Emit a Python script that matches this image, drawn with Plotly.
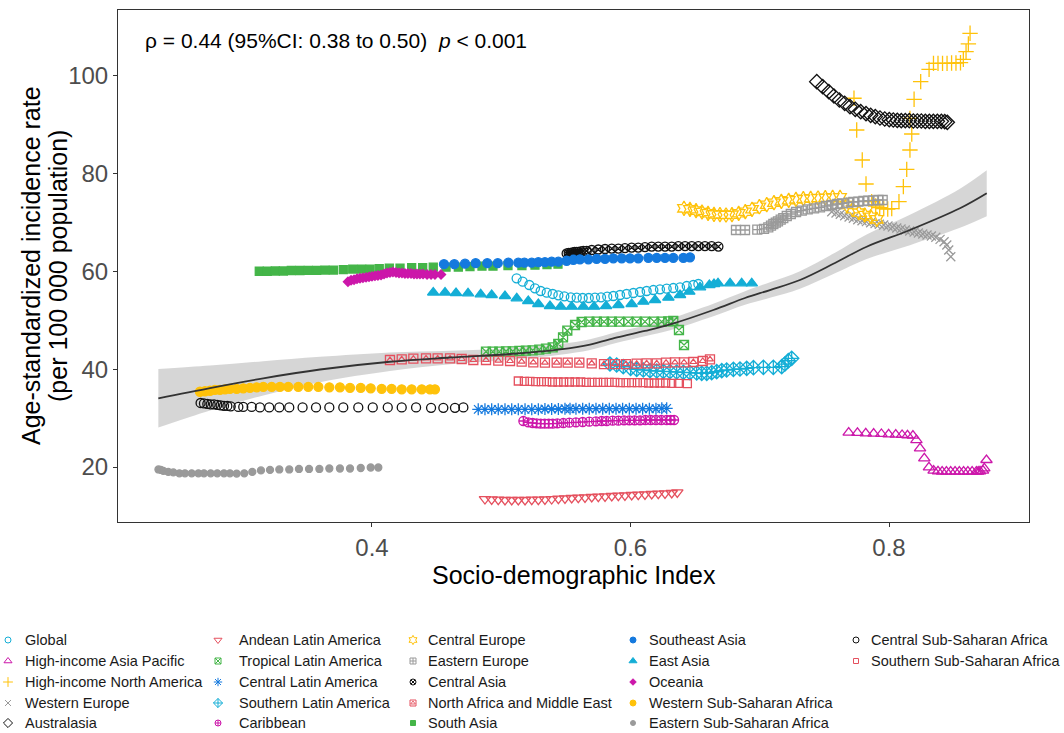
import plotly.graph_objects as go

W, H = 1064, 733

# ---------------------------------------------------------------
# Socio-demographic Index (x) and age-standardized incidence rate
# per 100 000 (y) for each GBD region, 1990-2019
# ---------------------------------------------------------------
global_sdi = [0.5119, 0.5166, 0.5217, 0.5261, 0.5305, 0.5352, 0.5398, 0.5442, 0.5488, 0.5538,
              0.5584, 0.5630, 0.5677, 0.5725, 0.5772, 0.5820, 0.5867, 0.5919, 0.5970, 0.6022,
              0.6074, 0.6125, 0.6177, 0.6228, 0.6280, 0.6331, 0.6383, 0.6435, 0.6486, 0.6525]
global_asir = [58.60, 57.92, 57.24, 56.56, 56.01, 55.67, 55.40, 55.12, 54.92, 54.71,
               54.65, 54.58, 54.58, 54.65, 54.71, 54.85, 54.99, 55.19, 55.40, 55.60,
               55.81, 56.01, 56.21, 56.35, 56.49, 56.62, 56.76, 57.03, 57.24, 57.44]

hiap_sdi = [0.7688, 0.7756, 0.7820, 0.7881, 0.7941, 0.7997, 0.8052, 0.8101, 0.8143, 0.8185,
            0.8212, 0.8240, 0.8273, 0.8309, 0.8345, 0.8379, 0.8411, 0.8444, 0.8477, 0.8511,
            0.8544, 0.8577, 0.8610, 0.8643, 0.8676, 0.8690, 0.8704, 0.8727, 0.8737, 0.8754]
hiap_asir = [27.03, 26.97, 26.90, 26.83, 26.76, 26.69, 26.62, 26.56, 26.49, 26.42,
             25.52, 23.81, 21.77, 19.93, 19.25, 19.12, 19.05, 19.05, 19.05, 19.05,
             19.05, 19.05, 19.05, 19.05, 19.05, 19.08, 19.12, 19.25, 19.73, 21.43]

hina_sdi = [0.7729, 0.7750, 0.7793, 0.7822, 0.7866, 0.7897, 0.7928, 0.7959, 0.7990, 0.8021,
            0.8077, 0.8111, 0.8137, 0.8162, 0.8176, 0.8162, 0.8194, 0.8245, 0.8310, 0.8344,
            0.8379, 0.8414, 0.8449, 0.8484, 0.8518, 0.8553, 0.8575, 0.8596, 0.8614, 0.8627]
hina_asir = [95.44, 88.95, 82.81, 77.90, 74.29, 73.40, 73.06, 72.86, 72.79, 72.86,
             74.29, 77.36, 80.90, 84.86, 88.13, 91.33, 95.23, 98.84, 101.36, 102.59,
             102.59, 102.59, 102.59, 102.65, 102.65, 102.72, 103.41, 104.98, 106.55, 108.73]

weur_sdi = [0.7557, 0.7590, 0.7623, 0.7657, 0.7691, 0.7724, 0.7758, 0.7791, 0.7825, 0.7858,
            0.7892, 0.7925, 0.7959, 0.7992, 0.8026, 0.8060, 0.8093, 0.8126, 0.8160, 0.8194,
            0.8227, 0.8261, 0.8294, 0.8328, 0.8362, 0.8395, 0.8426, 0.8447, 0.8462, 0.8478]
weur_asir = [72.24, 71.97, 71.70, 71.42, 71.15, 70.88, 70.60, 70.40, 70.20, 69.99,
             69.79, 69.65, 69.51, 69.31, 69.10, 68.90, 68.70, 68.49, 68.29, 68.08,
             67.88, 67.67, 67.47, 67.26, 66.99, 66.58, 66.10, 65.42, 64.40, 63.03]

austral_sdi = [0.7441, 0.7487, 0.7534, 0.7574, 0.7616, 0.7657, 0.7698, 0.7739, 0.7781, 0.7822,
               0.7858, 0.7894, 0.7930, 0.7967, 0.8002, 0.8033, 0.8064, 0.8095, 0.8126, 0.8157,
               0.8188, 0.8219, 0.8250, 0.8281, 0.8312, 0.8343, 0.8374, 0.8405, 0.8431, 0.8451]
austral_asir = [98.84, 97.82, 96.79, 95.91, 95.09, 94.41, 93.73, 93.18, 92.70, 92.29,
                91.95, 91.68, 91.41, 91.20, 91.07, 91.00, 90.93, 90.86, 90.86, 90.86,
                90.79, 90.79, 90.79, 90.72, 90.72, 90.72, 90.72, 90.72, 90.66, 90.52]

andean_sdi = [0.4874, 0.4926, 0.4977, 0.5029, 0.5081, 0.5132, 0.5184, 0.5236, 0.5287, 0.5338,
              0.5390, 0.5442, 0.5493, 0.5545, 0.5596, 0.5648, 0.5700, 0.5751, 0.5803, 0.5855,
              0.5906, 0.5957, 0.6009, 0.6060, 0.6112, 0.6164, 0.6215, 0.6267, 0.6319, 0.6362]
andean_asir = [13.45, 13.39, 13.32, 13.25, 13.25, 13.25, 13.25, 13.32, 13.32, 13.39,
               13.45, 13.52, 13.59, 13.66, 13.73, 13.80, 13.86, 13.93, 14.00, 14.07,
               14.14, 14.21, 14.27, 14.34, 14.41, 14.48, 14.55, 14.62, 14.68, 14.82]

trop_sdi = [0.4882, 0.4934, 0.4985, 0.5037, 0.5089, 0.5140, 0.5191, 0.5243, 0.5294, 0.5346,
            0.5398, 0.5441, 0.5478, 0.5511, 0.5571, 0.5622, 0.5681, 0.5739, 0.5795, 0.5855,
            0.5913, 0.5983, 0.6048, 0.6112, 0.6182, 0.6241, 0.6292, 0.6331, 0.6375, 0.6414]
trop_asir = [43.60, 43.60, 43.60, 43.67, 43.67, 43.74, 43.80, 43.87, 44.01, 44.21,
             44.49, 45.17, 46.53, 47.89, 49.05, 49.67, 49.74, 49.74, 49.74, 49.74,
             49.74, 49.74, 49.74, 49.74, 49.74, 49.74, 49.80, 49.87, 48.03, 44.96]

clat_sdi = [0.4822, 0.4874, 0.4926, 0.4977, 0.5029, 0.5081, 0.5132, 0.5184, 0.5236, 0.5287,
            0.5338, 0.5390, 0.5442, 0.5493, 0.5532, 0.5578, 0.5630, 0.5681, 0.5733, 0.5785,
            0.5836, 0.5888, 0.5939, 0.5991, 0.6043, 0.6094, 0.6146, 0.6197, 0.6242, 0.6280]
clat_asir = [31.80, 31.80, 31.80, 31.80, 31.80, 31.80, 31.80, 31.80, 31.80, 31.80,
             31.87, 31.87, 31.87, 31.93, 31.93, 31.93, 31.93, 31.93, 31.93, 31.93,
             31.93, 31.93, 31.93, 31.93, 31.93, 31.93, 31.93, 31.93, 32.00, 32.00]

slat_sdi = [0.5841, 0.5893, 0.5944, 0.6001, 0.6048, 0.6099, 0.6151, 0.6203, 0.6254, 0.6306,
            0.6357, 0.6409, 0.6460, 0.6512, 0.6551, 0.6590, 0.6628, 0.6667, 0.6706, 0.6744,
            0.6796, 0.6847, 0.6899, 0.6951, 0.7028, 0.7105, 0.7170, 0.7195, 0.7221, 0.7247]
slat_asir = [41.07, 40.87, 40.53, 40.19, 39.98, 39.85, 39.71, 39.64, 39.57, 39.51,
             39.44, 39.37, 39.30, 39.23, 39.17, 39.17, 39.30, 39.51, 39.71, 39.85,
             39.98, 40.05, 40.19, 40.32, 40.39, 40.39, 40.53, 41.07, 41.76, 42.23]

carib_sdi = [0.5171, 0.5209, 0.5243, 0.5274, 0.5305, 0.5336, 0.5367, 0.5398, 0.5434, 0.5480,
             0.5527, 0.5578, 0.5630, 0.5681, 0.5733, 0.5777, 0.5816, 0.5862, 0.5906, 0.5950,
             0.5991, 0.6032, 0.6074, 0.6115, 0.6156, 0.6197, 0.6238, 0.6280, 0.6311, 0.6337]
carib_asir = [29.41, 29.14, 29.00, 28.93, 28.87, 28.87, 28.87, 28.87, 28.93, 29.00,
              29.07, 29.14, 29.21, 29.28, 29.34, 29.41, 29.41, 29.48, 29.48, 29.55,
              29.55, 29.55, 29.55, 29.62, 29.62, 29.62, 29.62, 29.62, 29.62, 29.62]

ceur_sdi = [0.6414, 0.6460, 0.6507, 0.6553, 0.6600, 0.6646, 0.6692, 0.6739, 0.6785, 0.6837,
            0.6888, 0.6940, 0.6997, 0.7054, 0.7110, 0.7167, 0.7224, 0.7280, 0.7337, 0.7394,
            0.7451, 0.7507, 0.7564, 0.7621, 0.7673, 0.7719, 0.7766, 0.7812, 0.7859, 0.7905]
ceur_asir = [72.92, 72.72, 72.45, 72.17, 71.90, 71.69, 71.63, 71.56, 71.63, 71.90,
             72.24, 72.72, 73.26, 73.67, 74.08, 74.35, 74.56, 74.76, 74.90, 74.97,
             75.04, 75.10, 75.17, 75.17, 73.60, 72.72, 72.04, 71.56, 71.22, 70.67]

eeur_sdi = [0.6816, 0.6886, 0.6981, 0.7033, 0.7066, 0.7087, 0.7105, 0.7124, 0.7141, 0.7162,
            0.7182, 0.7209, 0.7240, 0.7281, 0.7325, 0.7371, 0.7420, 0.7466, 0.7513, 0.7557,
            0.7600, 0.7641, 0.7685, 0.7724, 0.7763, 0.7802, 0.7840, 0.7879, 0.7918, 0.7951]
eeur_asir = [68.49, 68.49, 68.56, 68.70, 69.04, 69.38, 69.72, 69.99, 70.26, 70.60,
             70.94, 71.35, 71.76, 72.17, 72.45, 72.72, 72.92, 73.13, 73.40, 73.60,
             73.81, 73.94, 74.08, 74.22, 74.28, 74.42, 74.49, 74.56, 74.63, 74.63]

casia_sdi = [0.5506, 0.5522, 0.5537, 0.5553, 0.5568, 0.5584, 0.5599, 0.5615, 0.5635, 0.5661,
             0.5700, 0.5751, 0.5803, 0.5855, 0.5906, 0.5957, 0.6009, 0.6060, 0.6112, 0.6164,
             0.6215, 0.6267, 0.6319, 0.6370, 0.6422, 0.6474, 0.6525, 0.6576, 0.6628, 0.6680]
casia_asir = [63.7, 63.8, 63.8, 63.9, 64.0, 64.0, 64.0, 64.1, 64.2, 64.2,
              64.4, 64.5, 64.6, 64.7, 64.7, 64.8, 64.9, 64.9, 65.0, 65.1,
              65.1, 65.1, 65.1, 65.2, 65.2, 65.2, 65.2, 65.2, 65.2, 65.1]

name_sdi = [0.4139, 0.4230, 0.4320, 0.4418, 0.4508, 0.4604, 0.4694, 0.4784, 0.4882, 0.4977,
            0.5068, 0.5158, 0.5248, 0.5338, 0.5429, 0.5514, 0.5604, 0.5700, 0.5795, 0.5880,
            0.5965, 0.6048, 0.6125, 0.6203, 0.6275, 0.6344, 0.6414, 0.6486, 0.6559, 0.6615]
name_asir = [41.89, 42.03, 42.17, 42.23, 42.23, 42.23, 42.10, 41.89, 41.89, 41.76,
             41.69, 41.55, 41.41, 41.35, 41.35, 41.35, 41.35, 41.21, 41.07, 41.07,
             41.07, 41.14, 41.21, 41.21, 41.35, 41.41, 41.41, 41.48, 41.69, 42.03]

sasia_sdi = [0.3128, 0.3190, 0.3252, 0.3314, 0.3376, 0.3443, 0.3507, 0.3572, 0.3636, 0.3701,
             0.3778, 0.3851, 0.3920, 0.3985, 0.4056, 0.4134, 0.4217, 0.4307, 0.4392, 0.4474,
             0.4573, 0.4668, 0.4758, 0.4851, 0.4936, 0.5052, 0.5160, 0.5261, 0.5354, 0.5439]
sasia_asir = [60.05, 60.05, 60.10, 60.10, 60.20, 60.20, 60.25, 60.25, 60.30, 60.30,
              60.40, 60.50, 60.50, 60.50, 60.60, 60.70, 60.70, 60.80, 60.80, 60.90,
              60.90, 60.90, 61.00, 61.10, 61.10, 61.20, 61.20, 61.30, 61.40, 61.50]

seasia_sdi = [0.4557, 0.4637, 0.4720, 0.4802, 0.4892, 0.4973, 0.5055, 0.5132, 0.5179, 0.5236,
              0.5287, 0.5338, 0.5390, 0.5442, 0.5506, 0.5558, 0.5609, 0.5674, 0.5738, 0.5803,
              0.5867, 0.5932, 0.5996, 0.6060, 0.6138, 0.6203, 0.6267, 0.6331, 0.6409, 0.6460]
seasia_asir = [61.5, 61.5, 61.6, 61.7, 61.7, 61.7, 61.8, 61.8, 61.8, 61.8,
               61.9, 61.9, 62.0, 62.0, 62.2, 62.4, 62.5, 62.5, 62.6, 62.6,
               62.7, 62.7, 62.7, 62.7, 62.8, 62.8, 62.8, 62.8, 62.8, 62.9]

easia_sdi = [0.4474, 0.4565, 0.4650, 0.4743, 0.4841, 0.4926, 0.5029, 0.5120, 0.5209, 0.5287,
             0.5377, 0.5460, 0.5545, 0.5635, 0.5718, 0.5811, 0.5906, 0.6009, 0.6099, 0.6190,
             0.6293, 0.6383, 0.6455, 0.6538, 0.6610, 0.6646, 0.6677, 0.6770, 0.6860, 0.6938]
easia_asir = [55.70, 55.70, 55.60, 55.53, 55.33, 55.19, 54.99, 54.51, 53.96, 53.35,
              52.94, 52.80, 52.80, 52.80, 52.80, 52.94, 53.15, 53.35, 53.83, 54.17,
              54.65, 55.19, 55.87, 56.76, 57.24, 57.44, 57.58, 57.58, 57.58, 57.58]

ocean_sdi = [0.3814, 0.3838, 0.3861, 0.3884, 0.3907, 0.3930, 0.3954, 0.3977, 0.4000, 0.4023,
             0.4046, 0.4070, 0.4093, 0.4116, 0.4139, 0.4162, 0.4186, 0.4209, 0.4232, 0.4255,
             0.4278, 0.4302, 0.4325, 0.4348, 0.4371, 0.4395, 0.4426, 0.4457, 0.4487, 0.4534]
ocean_asir = [57.9, 58.2, 58.3, 58.5, 58.6, 58.7, 58.8, 58.9, 59.0, 59.1,
              59.2, 59.3, 59.5, 59.7, 59.8, 59.9, 59.8, 59.7, 59.7, 59.6,
              59.6, 59.6, 59.5, 59.5, 59.5, 59.5, 59.4, 59.4, 59.4, 59.4]

wssa_sdi = [0.2669, 0.2708, 0.2747, 0.2785, 0.2824, 0.2863, 0.2901, 0.2953, 0.3004, 0.3056,
            0.3108, 0.3159, 0.3224, 0.3288, 0.3352, 0.3430, 0.3507, 0.3585, 0.3670, 0.3752,
            0.3830, 0.3913, 0.3990, 0.4075, 0.4152, 0.4230, 0.4307, 0.4385, 0.4449, 0.4487]
wssa_asir = [35.4, 35.5, 35.6, 35.8, 35.8, 35.9, 36.0, 36.0, 36.1, 36.2,
             36.3, 36.4, 36.4, 36.4, 36.4, 36.4, 36.4, 36.4, 36.3, 36.3,
             36.2, 36.2, 36.1, 36.0, 36.0, 35.9, 35.9, 35.9, 35.9, 35.9]

essa_sdi = [0.2348, 0.2366, 0.2386, 0.2424, 0.2463, 0.2510, 0.2553, 0.2605, 0.2657, 0.2700,
            0.2752, 0.2803, 0.2855, 0.2901, 0.2953, 0.3012, 0.3074, 0.3141, 0.3211, 0.3283,
            0.3360, 0.3435, 0.3513, 0.3593, 0.3670, 0.3752, 0.3830, 0.3913, 0.3990, 0.4049]
essa_asir = [19.5, 19.4, 19.2, 19.0, 18.9, 18.7, 18.7, 18.7, 18.7, 18.7,
             18.7, 18.7, 18.7, 18.7, 18.65, 18.7, 19.0, 19.3, 19.4, 19.5,
             19.5, 19.6, 19.6, 19.6, 19.7, 19.7, 19.7, 19.8, 19.9, 19.9]

cssa_sdi = [0.2674, 0.2700, 0.2726, 0.2752, 0.2778, 0.2803, 0.2829, 0.2855, 0.2881, 0.2907,
            0.2966, 0.3004, 0.3069, 0.3133, 0.3205, 0.3283, 0.3360, 0.3463, 0.3567, 0.3670,
            0.3778, 0.3894, 0.4006, 0.4122, 0.4230, 0.4341, 0.4457, 0.4552, 0.4642, 0.4707]
cssa_asir = [33.1, 33.0, 32.9, 32.8, 32.8, 32.7, 32.6, 32.5, 32.5, 32.4,
             32.3, 32.3, 32.3, 32.2, 32.2, 32.2, 32.2, 32.2, 32.2, 32.2,
             32.2, 32.2, 32.2, 32.2, 32.2, 32.2, 32.1, 32.1, 32.1, 32.2]

sssa_sdi = [0.5132, 0.5179, 0.5222, 0.5266, 0.5310, 0.5352, 0.5395, 0.5439, 0.5483, 0.5527,
            0.5571, 0.5615, 0.5658, 0.5702, 0.5746, 0.5790, 0.5834, 0.5878, 0.5921, 0.5965,
            0.6009, 0.6053, 0.6097, 0.6141, 0.6184, 0.6228, 0.6272, 0.6319, 0.6370, 0.6440]
sssa_asir = [37.60, 37.53, 37.53, 37.46, 37.46, 37.46, 37.39, 37.39, 37.39, 37.39,
             37.39, 37.39, 37.33, 37.33, 37.33, 37.33, 37.33, 37.33, 37.26, 37.26,
             37.26, 37.26, 37.26, 37.19, 37.19, 37.19, 37.19, 37.12, 37.12, 37.05]

# loess fit across all regions with its 95% confidence band
fit_sdi = [0.2347, 0.2747, 0.3159, 0.3598, 0.4139, 0.4604, 0.5068, 0.5455, 0.5687, 0.5896,
           0.6112, 0.6306, 0.6641, 0.6886, 0.7079, 0.7311, 0.7582, 0.7827, 0.8162, 0.8549, 0.8756]
fit_asir = [34.06, 36.16, 38.15, 39.95, 41.54, 42.40, 43.12, 44.08, 45.06, 46.50,
            47.83, 49.16, 52.12, 54.58, 56.21, 58.26, 61.74, 65.07, 68.49, 72.93, 76.00]
fit_lower = [28.06, 31.56, 34.65, 37.35, 39.64, 41.00, 41.92, 42.98, 43.96, 45.40,
             46.73, 47.96, 50.82, 53.18, 54.61, 56.46, 59.64, 62.57, 65.39, 68.93, 71.30]
fit_upper = [40.06, 40.76, 41.65, 42.55, 43.44, 43.80, 44.32, 45.18, 46.16, 47.60,
             48.93, 50.36, 53.42, 55.98, 57.81, 60.06, 63.84, 67.57, 71.59, 76.93, 80.70]

x_ticks = [0.4, 0.6, 0.8]
y_ticks = [20, 40, 60, 80, 100]
stats_label = "ρ = 0.44 (95%CI: 0.38 to 0.50)\u00a0 <i>p</i> &lt; 0.001"

regions = [
    ("Global", global_sdi, global_asir),
    ("High-income Asia Pacific", hiap_sdi, hiap_asir),
    ("High-income North America", hina_sdi, hina_asir),
    ("Western Europe", weur_sdi, weur_asir),
    ("Australasia", austral_sdi, austral_asir),
    ("Andean Latin America", andean_sdi, andean_asir),
    ("Tropical Latin America", trop_sdi, trop_asir),
    ("Central Latin America", clat_sdi, clat_asir),
    ("Southern Latin America", slat_sdi, slat_asir),
    ("Caribbean", carib_sdi, carib_asir),
    ("Central Europe", ceur_sdi, ceur_asir),
    ("Eastern Europe", eeur_sdi, eeur_asir),
    ("Central Asia", casia_sdi, casia_asir),
    ("North Africa and Middle East", name_sdi, name_asir),
    ("South Asia", sasia_sdi, sasia_asir),
    ("Southeast Asia", seasia_sdi, seasia_asir),
    ("East Asia", easia_sdi, easia_asir),
    ("Oceania", ocean_sdi, ocean_asir),
    ("Western Sub-Saharan Africa", wssa_sdi, wssa_asir),
    ("Eastern Sub-Saharan Africa", essa_sdi, essa_asir),
    ("Central Sub-Saharan Africa", cssa_sdi, cssa_asir),
    ("Southern Sub-Saharan Africa", sssa_sdi, sssa_asir),
]

# ---- styling ----
palette = ["#14AED6", "#CC17AA", "#FFC20A", "#9A9A9A",
           "#111111", "#E5505E", "#44B548", "#1479DE"]
symbols = [
    ("circle-open", 9), ("triangle-up-open", 10), ("cross-thin-open", 11),
    ("x-thin-open", 9), ("diamond-open", 11), ("triangle-down-open", 10),
    ("square-x-open", 9), ("asterisk-open", 10), ("diamond-cross-open", 11),
    ("circle-cross-open", 9), ("hexagram-open", 11), ("square-cross-open", 9),
    ("circle-x-open", 9), ("square-open", 9), ("square", 8), ("circle", 9),
    ("triangle-up", 10), ("diamond", 7), ("circle", 9), ("circle", 7),
    ("circle-open", 9), ("square-open", 8),
]
FONT = "Liberation Sans, Arial, Helvetica, sans-serif"

# panel placement in page pixels
PL, PR, PT, PB = 118, 1029, 10, 522
X_RANGE = [0.2035, 0.9083]
Y_RANGE = [8.75, 113.5]
LEG_TOP = 623.05  # page y where the key's axis starts


def px(x):
    return x / W


def py(y):
    return (H - y) / H


fig = go.Figure()

# confidence band of the smoother
fig.add_trace(go.Scatter(x=fit_sdi, y=fit_lower, mode="lines", line=dict(width=0, shape="spline"),
                         hoverinfo="skip", showlegend=False))
fig.add_trace(go.Scatter(x=fit_sdi, y=fit_upper, mode="lines", line=dict(width=0, shape="spline"),
                         fill="tonexty", fillcolor="rgba(153,153,153,0.4)",
                         hoverinfo="skip", showlegend=False))

# region trajectories
for i, (name, xs, ys) in enumerate(regions):
    color = palette[i % len(palette)]
    sym, size = symbols[i]
    fig.add_trace(go.Scatter(
        x=xs, y=ys, mode="markers", name=name, showlegend=False,
        marker=dict(symbol=sym, size=size, color=color, line=dict(color=color, width=1.3)),
    ))
    if name == "North Africa and Middle East":
        # square with an inscribed triangle
        fig.add_trace(go.Scatter(
            x=xs, y=ys, mode="markers", showlegend=False, hoverinfo="skip",
            marker=dict(symbol="triangle-up-open", size=6, color=color,
                        line=dict(color=color, width=1.2)),
        ))

# smoother
fig.add_trace(go.Scatter(x=fit_sdi, y=fit_asir, mode="lines",
                         line=dict(color="#333333", width=1.8, shape="spline"),
                         hoverinfo="skip", showlegend=False))

# ---- key below the panel, five columns filled top to bottom ----
col_sym_x = [8, 218, 413, 633, 856]
col_txt_x = [23, 237, 426, 647, 869]
row_y = [640, 661, 682, 703, 723]
annotations = []
for i, (name, _, _) in enumerate(regions):
    c, r = divmod(i, 5)
    color = palette[i % len(palette)]
    sym, size = symbols[i]
    ks = max(5, round(size * 0.68))
    fig.add_trace(go.Scatter(
        x=[col_sym_x[c]], y=[row_y[r]], mode="markers", xaxis="x2", yaxis="y2",
        showlegend=False, hoverinfo="skip", cliponaxis=False,
        marker=dict(symbol=sym, size=ks, color=color, line=dict(color=color, width=1)),
    ))
    if name == "North Africa and Middle East":
        fig.add_trace(go.Scatter(
            x=[col_sym_x[c]], y=[row_y[r]], mode="markers", xaxis="x2", yaxis="y2",
            showlegend=False, hoverinfo="skip", cliponaxis=False,
            marker=dict(symbol="triangle-up-open", size=4, color=color,
                        line=dict(color=color, width=0.9)),
        ))
    annotations.append(dict(
        x=col_txt_x[c], y=row_y[r], xref="x2", yref="y2", text=name,
        showarrow=False, xanchor="left", yanchor="middle",
        font=dict(family=FONT, size=14.5, color="#1a1a1a"),
    ))

# statistic in the top-left corner
annotations.append(dict(
    x=px(143), y=py(40), xref="paper", yref="paper", text=stats_label,
    showarrow=False, xanchor="left", yanchor="middle",
    font=dict(family=FONT, size=21, color="#000000"),
))
# axis titles
annotations.append(dict(
    x=px((PL + PR) / 2), y=py(575), xref="paper", yref="paper",
    text="Socio-demographic Index", showarrow=False,
    xanchor="center", yanchor="middle", font=dict(family=FONT, size=25, color="#000000"),
))
annotations.append(dict(
    x=px(31), y=py((PT + PB) / 2), xref="paper", yref="paper",
    text="Age-standardized incidence rate", textangle=-90, showarrow=False,
    xanchor="center", yanchor="middle", font=dict(family=FONT, size=25, color="#000000"),
))
annotations.append(dict(
    x=px(58), y=py((PT + PB) / 2), xref="paper", yref="paper",
    text="(per 100 000 population)", textangle=-90, showarrow=False,
    xanchor="center", yanchor="middle", font=dict(family=FONT, size=25, color="#000000"),
))

axis_common = dict(
    showgrid=False, zeroline=False, showline=True, mirror=True,
    linecolor="#333333", linewidth=1, ticks="outside", ticklen=4,
    tickcolor="#333333", tickwidth=1,
    tickfont=dict(family=FONT, size=24, color="#4D4D4D"), automargin=False,
)

fig.update_layout(
    width=W, height=H,
    margin=dict(l=0, r=0, t=0, b=0),
    paper_bgcolor="white", plot_bgcolor="white",
    font=dict(family=FONT),
    showlegend=False,
    xaxis=dict(domain=[PL / W, PR / W], range=X_RANGE, tickvals=x_ticks,
               ticktext=[f"{v:.1f}" for v in x_ticks], **axis_common),
    yaxis=dict(domain=[(H - PB) / H, (H - PT) / H], range=Y_RANGE, tickvals=y_ticks,
               **axis_common),
    xaxis2=dict(domain=[0, 1], range=[0, W], visible=False, anchor="y2"),
    yaxis2=dict(domain=[0, (H - LEG_TOP) / H], range=[H, LEG_TOP], visible=False, anchor="x2"),
    annotations=annotations,
)

fig.write_html("out.html")
